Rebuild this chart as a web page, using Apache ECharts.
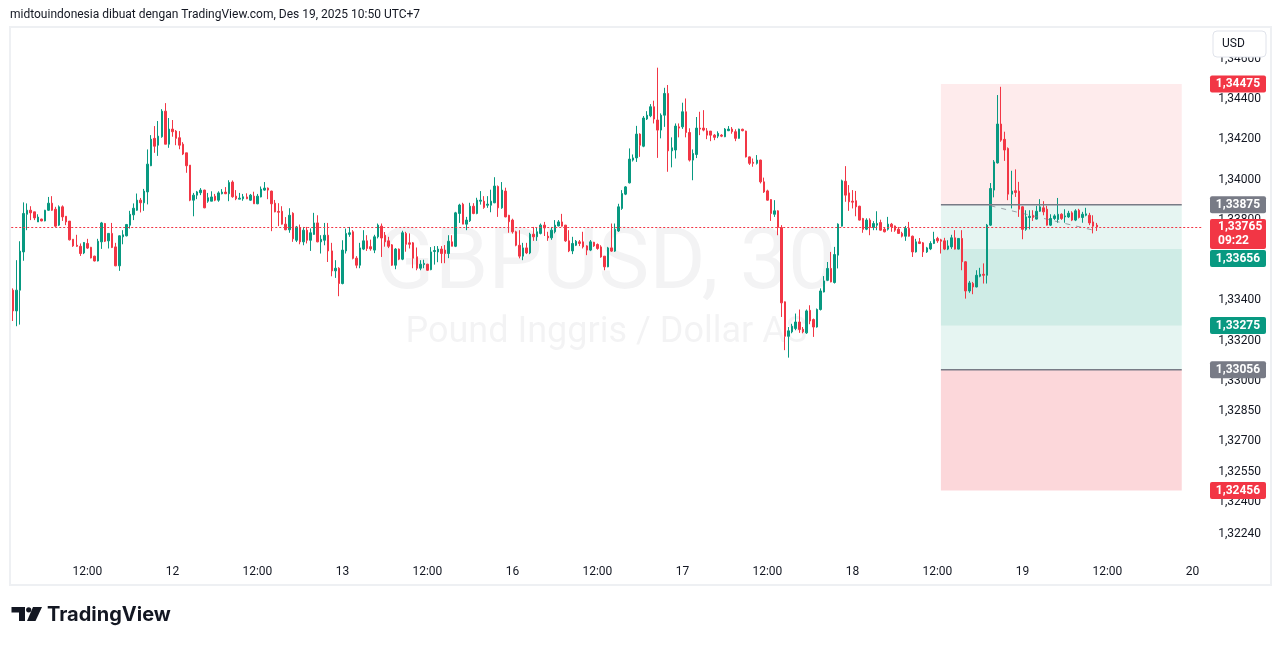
<!DOCTYPE html>
<html><head><meta charset="utf-8">
<script src="https://cdn.jsdelivr.net/npm/echarts@6/dist/echarts.min.js"></script>
<style>html,body{margin:0;padding:0;background:#fff;}#c{width:1281px;height:646px;}</style>
</head><body><div id="c"></div>
<script>
// ---- GBPUSD 30m candles (open, close, low, high) ----
const openP = [
1.33451,1.33348,1.33451,1.33641,1.33828,1.33848,1.33840,1.33790,1.33804,1.33795,
1.33848,1.33883,1.33853,1.33774,1.33865,1.33818,1.33794,1.33704,1.33674,1.33669,
1.33636,1.33683,1.33664,1.33620,1.33596,1.33691,1.33782,1.33696,1.33733,1.33666,
1.33572,1.33716,1.33721,1.33774,1.33825,1.33848,1.33898,1.33885,1.33939,1.34069,
1.34205,1.34171,1.34213,1.34340,1.34176,1.34251,1.34241,1.34208,1.34176,1.34133,
1.34072,1.33898,1.33923,1.33935,1.33948,1.33893,1.33893,1.33918,1.33898,1.33930,
1.33938,1.33930,1.33988,1.33918,1.33903,1.33905,1.33914,1.33898,1.33918,1.33880,
1.33914,1.33948,1.33958,1.33943,1.33883,1.33842,1.33843,1.33779,1.33751,1.33833,
1.33699,1.33760,1.33691,1.33749,1.33699,1.33728,1.33785,1.33691,1.33699,1.33724,
1.33646,1.33547,1.33560,1.33484,1.33646,1.33728,1.33741,1.33610,1.33575,1.33655,
1.33696,1.33667,1.33650,1.33716,1.33769,1.33724,1.33696,1.33676,1.33575,1.33655,
1.33605,1.33733,1.33686,1.33686,1.33617,1.33560,1.33578,1.33580,1.33553,1.33643,
1.33641,1.33655,1.33650,1.33633,1.33691,1.33669,1.33832,1.33878,1.33779,1.33796,
1.33868,1.33832,1.33893,1.33893,1.33873,1.33873,1.33885,1.33966,1.33860,1.33943,
1.33823,1.33799,1.33741,1.33674,1.33620,1.33661,1.33636,1.33729,1.33716,1.33733,
1.33774,1.33719,1.33711,1.33741,1.33770,1.33790,1.33774,1.33696,1.33646,1.33674,
1.33691,1.33691,1.33671,1.33650,1.33689,1.33678,1.33666,1.33620,1.33567,1.33661,
1.33645,1.33745,1.33857,1.33928,1.33984,1.34097,1.34108,1.34226,1.34166,1.34301,
1.34317,1.34362,1.34296,1.34246,1.34320,1.34428,1.34143,1.34147,1.34262,1.34262,
1.34337,1.34234,1.34097,1.34125,1.34256,1.34256,1.34242,1.34241,1.34221,1.34216,
1.34221,1.34213,1.34243,1.34251,1.34238,1.34205,1.34250,1.34241,1.34113,1.34086,
1.34081,1.34097,1.33989,1.33944,1.33901,1.33828,1.33845,1.33762,1.33393,1.33222,
1.33244,1.33261,1.33293,1.33257,1.33239,1.33351,1.33305,1.33268,1.33355,1.33442,
1.33500,1.33559,1.33489,1.33625,1.33769,1.33992,1.33934,1.33893,1.33895,1.33868,
1.33807,1.33754,1.33799,1.33762,1.33774,1.33787,1.33754,1.33754,1.33779,1.33770,
1.33754,1.33733,1.33719,1.33758,1.33719,1.33641,1.33691,1.33686,1.33641,1.33656,
1.33683,1.33708,1.33701,1.33696,1.33655,1.33666,1.33711,1.33655,1.33708,1.33592,
1.33447,1.33484,1.33467,1.33520,1.33530,1.33525,1.33774,1.33948,1.34083,1.34276,
1.34200,1.34155,1.33928,1.33945,1.33943,1.33865,1.33753,1.33812,1.33823,1.33804,
1.33843,1.33860,1.33853,1.33774,1.33807,1.33802,1.33828,1.33815,1.33815,1.33835,
1.33799,1.33848,1.33812,1.33823,1.33823,1.33790,1.33774];
const closeP = [
1.33348,1.33451,1.33645,1.33832,1.33848,1.33835,1.33810,1.33814,1.33795,1.33848,
1.33883,1.33848,1.33769,1.33865,1.33815,1.33790,1.33701,1.33671,1.33669,1.33633,
1.33688,1.33660,1.33611,1.33596,1.33694,1.33785,1.33694,1.33733,1.33663,1.33572,
1.33721,1.33726,1.33777,1.33828,1.33858,1.33898,1.33885,1.33943,1.34077,1.34201,
1.34166,1.34216,1.34340,1.34176,1.34251,1.34238,1.34205,1.34171,1.34127,1.34069,
1.33898,1.33923,1.33939,1.33948,1.33860,1.33910,1.33914,1.33898,1.33934,1.33938,
1.33930,1.33986,1.33915,1.33905,1.33908,1.33915,1.33905,1.33923,1.33880,1.33918,
1.33953,1.33958,1.33948,1.33880,1.33840,1.33838,1.33779,1.33751,1.33823,1.33706,
1.33765,1.33691,1.33749,1.33699,1.33736,1.33785,1.33691,1.33704,1.33724,1.33646,
1.33547,1.33560,1.33484,1.33650,1.33733,1.33736,1.33609,1.33575,1.33661,1.33696,
1.33658,1.33656,1.33716,1.33774,1.33710,1.33691,1.33669,1.33575,1.33655,1.33605,
1.33736,1.33679,1.33679,1.33610,1.33560,1.33580,1.33584,1.33550,1.33641,1.33648,
1.33655,1.33633,1.33633,1.33694,1.33669,1.33835,1.33874,1.33779,1.33799,1.33868,
1.33832,1.33898,1.33898,1.33862,1.33878,1.33893,1.33968,1.33860,1.33948,1.33815,
1.33791,1.33741,1.33674,1.33620,1.33661,1.33636,1.33729,1.33716,1.33741,1.33774,
1.33760,1.33711,1.33749,1.33774,1.33790,1.33769,1.33696,1.33646,1.33683,1.33694,
1.33683,1.33666,1.33650,1.33691,1.33671,1.33658,1.33616,1.33567,1.33661,1.33645,
1.33753,1.33865,1.33931,1.33964,1.34102,1.34108,1.34226,1.34171,1.34306,1.34320,
1.34362,1.34301,1.34246,1.34320,1.34428,1.34143,1.34158,1.34266,1.34256,1.34337,
1.34234,1.34097,1.34130,1.34256,1.34251,1.34246,1.34221,1.34221,1.34210,1.34230,
1.34216,1.34251,1.34251,1.34238,1.34205,1.34251,1.34243,1.34113,1.34081,1.34081,
1.34097,1.33989,1.33939,1.33898,1.33832,1.33845,1.33762,1.33388,1.33222,1.33249,
1.33272,1.33293,1.33256,1.33244,1.33348,1.33298,1.33268,1.33355,1.33447,1.33497,
1.33559,1.33492,1.33628,1.33779,1.33994,1.33923,1.33890,1.33888,1.33865,1.33799,
1.33753,1.33799,1.33762,1.33782,1.33782,1.33749,1.33741,1.33779,1.33766,1.33749,
1.33733,1.33719,1.33758,1.33719,1.33641,1.33691,1.33683,1.33641,1.33661,1.33683,
1.33703,1.33696,1.33694,1.33655,1.33671,1.33711,1.33655,1.33708,1.33592,1.33447,
1.33487,1.33467,1.33525,1.33530,1.33525,1.33774,1.33956,1.34088,1.34276,1.34196,
1.34147,1.33928,1.33943,1.33936,1.33853,1.33753,1.33815,1.33818,1.33812,1.33843,
1.33865,1.33840,1.33774,1.33807,1.33820,1.33828,1.33807,1.33820,1.33833,1.33799,
1.33845,1.33812,1.33828,1.33830,1.33785,1.33769,1.33765];
const lowP = [
1.33298,1.33272,1.33280,1.33597,1.33749,1.33799,1.33799,1.33790,1.33793,1.33793,
1.33845,1.33845,1.33765,1.33770,1.33795,1.33774,1.33698,1.33666,1.33666,1.33621,
1.33630,1.33656,1.33609,1.33594,1.33594,1.33656,1.33690,1.33658,1.33660,1.33570,
1.33547,1.33679,1.33718,1.33757,1.33799,1.33845,1.33837,1.33845,1.33877,1.34067,
1.34133,1.34118,1.34208,1.34176,1.34158,1.34213,1.34171,1.34151,1.34122,1.34034,
1.33893,1.33818,1.33903,1.33923,1.33858,1.33885,1.33893,1.33893,1.33890,1.33927,
1.33928,1.33893,1.33910,1.33898,1.33903,1.33895,1.33903,1.33895,1.33880,1.33878,
1.33912,1.33945,1.33903,1.33744,1.33838,1.33769,1.33777,1.33749,1.33736,1.33691,
1.33690,1.33679,1.33674,1.33683,1.33646,1.33726,1.33689,1.33633,1.33674,1.33591,
1.33520,1.33512,1.33421,1.33480,1.33633,1.33716,1.33604,1.33560,1.33560,1.33650,
1.33646,1.33647,1.33635,1.33708,1.33616,1.33667,1.33660,1.33572,1.33555,1.33600,
1.33600,1.33642,1.33658,1.33560,1.33550,1.33550,1.33560,1.33548,1.33550,1.33578,
1.33590,1.33585,1.33585,1.33610,1.33669,1.33665,1.33785,1.33779,1.33749,1.33790,
1.33828,1.33828,1.33876,1.33855,1.33860,1.33838,1.33883,1.33815,1.33855,1.33813,
1.33736,1.33732,1.33669,1.33609,1.33600,1.33630,1.33630,1.33696,1.33696,1.33728,
1.33720,1.33696,1.33701,1.33733,1.33768,1.33767,1.33691,1.33640,1.33630,1.33670,
1.33670,1.33658,1.33625,1.33645,1.33666,1.33652,1.33612,1.33550,1.33565,1.33641,
1.33641,1.33740,1.33850,1.33923,1.33981,1.34090,1.34088,1.34113,1.34161,1.34296,
1.34310,1.34279,1.34108,1.34205,1.34262,1.34039,1.34061,1.34105,1.34210,1.34252,
1.34210,1.34090,1.33997,1.34107,1.34221,1.34240,1.34201,1.34191,1.34196,1.34206,
1.34211,1.34211,1.34241,1.34228,1.34191,1.34203,1.34240,1.34110,1.34073,1.34064,
1.34075,1.33981,1.33934,1.33896,1.33795,1.33815,1.33724,1.33318,1.33153,1.33116,
1.33237,1.33252,1.33239,1.33237,1.33234,1.33282,1.33219,1.33265,1.33350,1.33440,
1.33496,1.33490,1.33484,1.33559,1.33767,1.33890,1.33845,1.33857,1.33818,1.33797,
1.33736,1.33749,1.33724,1.33749,1.33749,1.33747,1.33738,1.33747,1.33741,1.33741,
1.33731,1.33713,1.33696,1.33717,1.33616,1.33638,1.33680,1.33616,1.33636,1.33650,
1.33680,1.33686,1.33633,1.33650,1.33650,1.33656,1.33653,1.33653,1.33550,1.33409,
1.33438,1.33431,1.33465,1.33515,1.33484,1.33484,1.33770,1.33912,1.34080,1.34188,
1.34093,1.33898,1.33857,1.33914,1.33815,1.33704,1.33746,1.33753,1.33795,1.33802,
1.33840,1.33823,1.33772,1.33770,1.33800,1.33786,1.33800,1.33786,1.33810,1.33794,
1.33794,1.33807,1.33786,1.33818,1.33774,1.33733,1.33745];
const highP = [
1.33460,1.33600,1.33694,1.33887,1.33882,1.33868,1.33840,1.33828,1.33806,1.33850,
1.33914,1.33918,1.33865,1.33872,1.33872,1.33818,1.33794,1.33704,1.33726,1.33683,
1.33690,1.33706,1.33666,1.33622,1.33706,1.33790,1.33785,1.33735,1.33785,1.33686,
1.33723,1.33749,1.33780,1.33845,1.33882,1.33931,1.33909,1.33954,1.34150,1.34221,
1.34266,1.34291,1.34350,1.34380,1.34306,1.34296,1.34246,1.34241,1.34186,1.34133,
1.34072,1.33934,1.33944,1.33958,1.33950,1.33934,1.33942,1.33929,1.33942,1.33953,
1.33963,1.33997,1.33996,1.33948,1.33934,1.33929,1.33932,1.33929,1.33940,1.33929,
1.33966,1.33988,1.33961,1.33945,1.33899,1.33883,1.33868,1.33814,1.33858,1.33838,
1.33770,1.33777,1.33765,1.33765,1.33758,1.33835,1.33823,1.33724,1.33785,1.33785,
1.33686,1.33600,1.33565,1.33699,1.33757,1.33765,1.33749,1.33620,1.33686,1.33749,
1.33724,1.33702,1.33726,1.33782,1.33782,1.33740,1.33716,1.33680,1.33660,1.33658,
1.33746,1.33741,1.33733,1.33690,1.33663,1.33600,1.33602,1.33582,1.33665,1.33670,
1.33670,1.33670,1.33675,1.33724,1.33724,1.33840,1.33880,1.33885,1.33815,1.33885,
1.33883,1.33910,1.33943,1.33918,1.33918,1.33950,1.34012,1.33971,1.33988,1.33960,
1.33825,1.33806,1.33746,1.33749,1.33686,1.33686,1.33736,1.33765,1.33760,1.33782,
1.33790,1.33741,1.33765,1.33799,1.33799,1.33830,1.33775,1.33749,1.33716,1.33700,
1.33700,1.33741,1.33674,1.33700,1.33691,1.33683,1.33674,1.33620,1.33666,1.33782,
1.33782,1.33880,1.33948,1.33968,1.34155,1.34125,1.34267,1.34230,1.34316,1.34340,
1.34375,1.34392,1.34556,1.34329,1.34456,1.34470,1.34210,1.34279,1.34279,1.34382,
1.34403,1.34255,1.34150,1.34311,1.34337,1.34345,1.34256,1.34241,1.34226,1.34240,
1.34226,1.34256,1.34266,1.34261,1.34250,1.34253,1.34253,1.34243,1.34115,1.34105,
1.34122,1.34099,1.34010,1.33950,1.33903,1.33898,1.33848,1.33774,1.33395,1.33268,
1.33284,1.33335,1.33355,1.33268,1.33355,1.33376,1.33310,1.33360,1.33460,1.33521,
1.33591,1.33641,1.33666,1.33783,1.34000,1.34067,1.33973,1.33948,1.33944,1.33870,
1.33810,1.33808,1.33808,1.33794,1.33843,1.33801,1.33760,1.33815,1.33785,1.33772,
1.33765,1.33741,1.33770,1.33790,1.33722,1.33706,1.33710,1.33690,1.33666,1.33694,
1.33741,1.33716,1.33706,1.33711,1.33699,1.33726,1.33749,1.33710,1.33749,1.33595,
1.33497,1.33492,1.33550,1.33562,1.33584,1.33780,1.33983,1.34097,1.34420,1.34461,
1.34238,1.34160,1.34044,1.34051,1.33989,1.33868,1.33848,1.33848,1.33848,1.33870,
1.33903,1.33893,1.33870,1.33828,1.33828,1.33909,1.33833,1.33853,1.33845,1.33843,
1.33853,1.33855,1.33840,1.33860,1.33835,1.33823,1.33785];

// ---- axes ----
const slotCount = 336;                 // 30-min slots shown (incl. empty future)
const timeLabelIdx = [21,45,69,93,117,141,165,189,213,237,261,285,309,333];
const timeLabels = ['12:00','12','12:00','13','12:00','16','12:00','17','12:00','18','12:00','19','12:00','20'];
const priceTicks = [1.3224,1.3240,1.3255,1.3270,1.3285,1.3300,1.3320,1.3340,1.3360,1.3380,1.3400,1.3420,1.3440,1.3460];
const yMin = 1.32111, yMax = 1.34758;

// ---- current price ----
const lastPrice = 1.33765;
const countdown = '09:22';

// ---- position tools (start slot, end slot, prices) ----
const toolStart = 262, toolEnd = 330;
const shortTool = {entry: 1.33875, stop: 1.34475, target: 1.33275};
const longTool  = {entry: 1.33056, stop: 1.32456, target: 1.33656};
const connector = [[276, 1.33870], [306, 1.33745]];

// ---- price tags on axis ----
const priceTags = [
  {v: 1.34475, c: '#f23645'},
  {v: 1.33875, c: '#787b86'},
  {v: 1.33656, c: '#089981', belowLast: true},
  {v: 1.33275, c: '#089981'},
  {v: 1.33056, c: '#787b86'},
  {v: 1.32456, c: '#f23645'}
];

const fmt = v => v.toFixed(5).replace('.', ',');
const n = Math.min(openP.length, closeP.length, lowP.length, highP.length);
const candles = [];
for (let i = 0; i < n; i++) candles.push([openP[i], closeP[i], lowP[i], highP[i]]);
const cats = [];
for (let i = 0; i < slotCount; i++) cats.push(String(i));
const labelMap = {};
timeLabelIdx.forEach((k, j) => labelMap[k] = timeLabels[j]);

const RED = 'rgba(242,54,69,0.10)', RED2 = 'rgba(242,54,69,0.20)', GRN = 'rgba(8,153,129,0.10)';
const rects = [
  [toolStart, toolEnd, shortTool.stop, shortTool.entry, RED],
  [toolStart, toolEnd, shortTool.entry, shortTool.target, GRN],
  [toolStart, toolEnd, longTool.target, longTool.entry, GRN],
  [toolStart, toolEnd, longTool.entry, longTool.stop, RED2]
];
// kind 0: entry line, 1: dashed connector, 2: full-width last-price line
const lines = [
  [toolStart, shortTool.entry, toolEnd, shortTool.entry, 0],
  [toolStart, longTool.entry, toolEnd, longTool.entry, 0],
  [connector[0][0], connector[0][1], connector[1][0], connector[1][1], 1],
  [0, lastPrice, slotCount - 1, lastPrice, 2]
];

const FONT = 'Roboto, "Noto Sans", sans-serif';
const chart = echarts.init(document.getElementById('c'));
const option = {
  animation: false,
  backgroundColor: '#ffffff',
  grid: {left: 11.23, top: 27, width: 1190, height: 533},
  xAxis: {
    type: 'category', data: cats, boundaryGap: true,
    axisLine: {show: false}, axisTick: {show: false}, splitLine: {show: false},
    axisLabel: {
      interval: (idx) => labelMap[idx] !== undefined,
      formatter: (v, idx) => labelMap[idx] || '',
      color: '#131722', fontSize: 12, fontFamily: FONT, margin: 6
    }
  },
  yAxis: {
    type: 'value', position: 'right', min: yMin, max: yMax,
    splitLine: {show: false}, axisLine: {show: false}, axisTick: {show: false},
    axisLabel: {customValues: priceTicks, formatter: fmt, color: '#131722', fontSize: 12, fontFamily: FONT, margin: 17}
  },
  series: [
    {
      type: 'custom', z: 1, silent: true, clip: true,
      data: rects,
      encode: {x: [0, 1], y: [2, 3]},
      renderItem: (params, api) => {
        const r = rects[params.dataIndex];
        const p1 = api.coord([r[0], r[2]]);
        const p2 = api.coord([r[1], r[3]]);
        return {type: 'rect', shape: {x: p1[0], y: p1[1], width: p2[0] - p1[0], height: p2[1] - p1[1]},
                style: {fill: r[4]}};
      }
    },
    {
      type: 'custom', z: 3, silent: true, clip: true,
      data: lines,
      encode: {x: [0, 2], y: [1, 3]},
      renderItem: (params, api) => {
        const l = lines[params.dataIndex];
        let p1 = api.coord([l[0], l[1]]);
        let p2 = api.coord([l[2], l[3]]);
        if (l[4] === 2) {
          const cs = params.coordSys;
          const yy = Math.round(p1[1]) + 0.5;
          p1 = [cs.x, yy]; p2 = [cs.x + cs.width, yy];
        }
        const style = l[4] === 0 ? {stroke: '#787b86', lineWidth: 1.5}
                    : l[4] === 1 ? {stroke: 'rgba(120,123,134,0.7)', lineWidth: 1, lineDash: [5, 6]}
                    : {stroke: '#f23645', lineWidth: 1, lineDash: [2, 2]};
        return {type: 'line', shape: {x1: p1[0], y1: p1[1], x2: p2[0], y2: p2[1]}, style: style};
      }
    },
    {
      type: 'candlestick', z: 2, data: candles, barWidth: 2,
      itemStyle: {color: '#089981', color0: '#f23645', borderColor: '#089981', borderColor0: '#f23645', borderWidth: 1}
    }
  ]
};
chart.setOption(option);

// ---- overlay graphics (texts, tags, frame, logo) ----
const py = v => chart.convertToPixel({yAxisIndex: 0}, v);
const gridL = 11.23, gridR = 11.23 + 1190, midX = (gridL + gridR) / 2;
const g = [];
g.push({type: 'text', z: 0, silent: true, x: midX, y: 266,
  style: {text: 'GBPUSD, 30', font: '86px ' + FONT, fill: 'rgba(19,23,34,0.05)', textAlign: 'center', textVerticalAlign: 'middle'}});
g.push({type: 'text', z: 0, silent: true, x: midX, y: 333,
  style: {text: 'Pound Inggris / Dollar AS', font: '36px ' + FONT, fill: 'rgba(19,23,34,0.05)', textAlign: 'center', textVerticalAlign: 'middle'}});
g.push({type: 'text', z: 10, x: 10, y: 15,
  style: {text: 'midtouindonesia dibuat dengan TradingView.com, Des 19, 2025 10:50 UTC+7', font: '12px ' + FONT, fill: '#131722', textVerticalAlign: 'middle'}});
g.push({type: 'rect', z: 10, silent: true, shape: {x: 10, y: 27, width: 1261, height: 558},
  style: {fill: 'none', stroke: '#eef0f3', lineWidth: 2}});
// USD box
g.push({type: 'rect', z: 20, shape: {x: 1213, y: 31, width: 53, height: 26, r: 4},
  style: {fill: '#ffffff', stroke: '#e0e3eb', lineWidth: 1}});
g.push({type: 'text', z: 21, x: 1222, y: 44, style: {text: 'USD', font: '12px ' + FONT, fill: '#131722', textVerticalAlign: 'middle'}});
// current price tag
const yl = py(lastPrice);
const lastTop = yl - 8, lastBottom = yl + 22;
g.push({type: 'rect', z: 30, shape: {x: 1210, y: lastTop, width: 56, height: lastBottom - lastTop, r: 2}, style: {fill: '#f23645'}});
g.push({type: 'text', z: 31, x: 1218, y: yl + 0.5, style: {text: fmt(lastPrice), font: 'bold 12px ' + FONT, fill: '#ffffff', textVerticalAlign: 'middle'}});
g.push({type: 'text', z: 31, x: 1218, y: yl + 14, style: {text: countdown, font: 'bold 12px ' + FONT, fill: '#ffffff', textVerticalAlign: 'middle'}});
priceTags.forEach(t => {
  let cy = py(t.v);
  if (t.belowLast) cy = Math.max(cy, lastBottom + 9.5);
  g.push({type: 'rect', z: 30, shape: {x: 1210, y: cy - 8.5, width: 56, height: 17, r: 2}, style: {fill: t.c}});
  g.push({type: 'text', z: 31, x: 1238, y: cy + 0.5, style: {text: fmt(t.v), font: 'bold 12px ' + FONT, fill: '#ffffff', textAlign: 'center', textVerticalAlign: 'middle'}});
});
// TradingView logo
g.push({type: 'polygon', z: 10, shape: {points: [[11.5, 607], [25, 607], [25, 621], [19, 621], [19, 612.5], [11.5, 612.5]]}, style: {fill: '#131722'}});
g.push({type: 'circle', z: 10, shape: {cx: 28.7, cy: 609.8, r: 2.6}, style: {fill: '#131722'}});
g.push({type: 'polygon', z: 10, shape: {points: [[33, 607], [42, 607], [35.5, 621], [27, 621]]}, style: {fill: '#131722'}});
g.push({type: 'text', z: 10, x: 47, y: 615, style: {text: 'TradingView', font: 'bold 20px Inter, ' + FONT, fill: '#131722', textVerticalAlign: 'middle'}});
chart.setOption({graphic: g});
</script></body></html>
